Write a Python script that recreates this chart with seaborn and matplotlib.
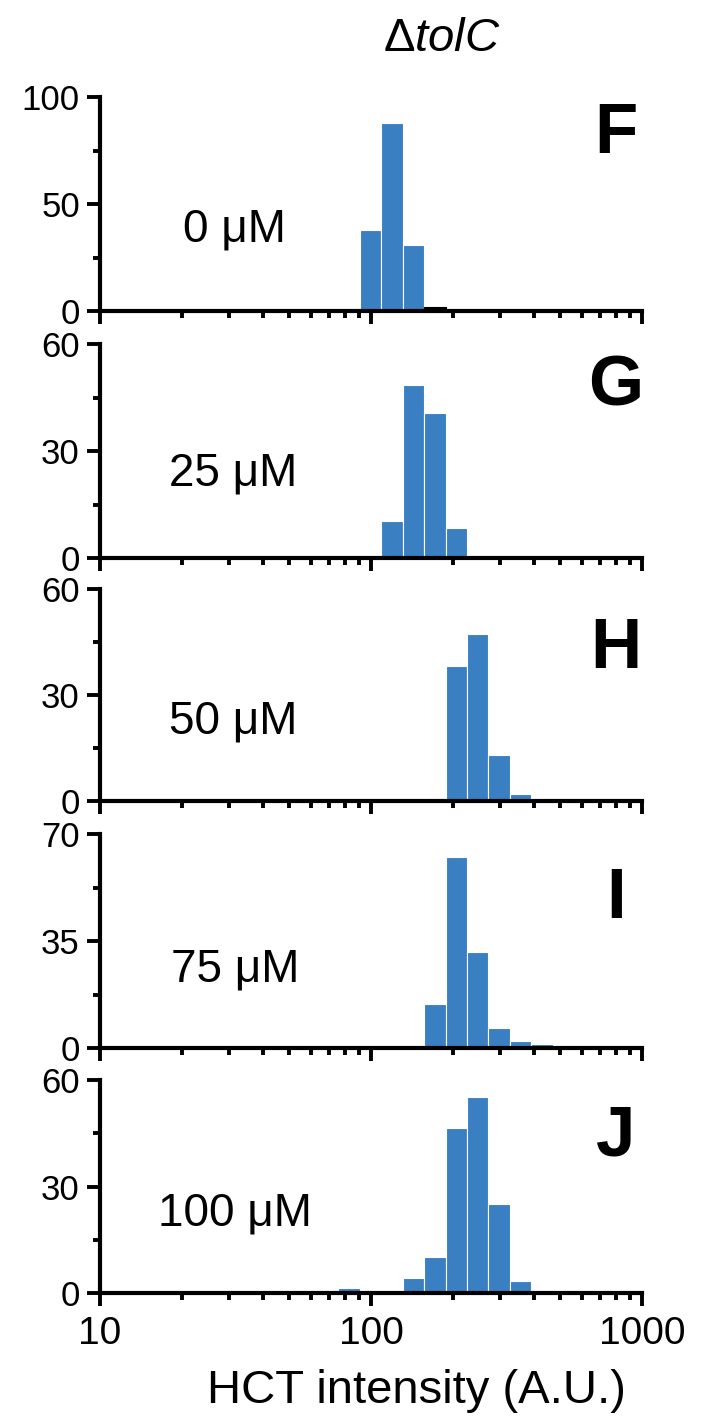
import numpy as np
import matplotlib
matplotlib.use('Agg')
import matplotlib.pyplot as plt
import seaborn as sns

# bin edges of the log-spaced histogram (A.U.)
edges = [43.8, 52.6, 63.1, 75.7, 90.8, 109.0, 130.8, 157.0, 188.4, 226.0,
         271.2, 325.5, 390.6, 468.7, 562.4, 674.9, 809.9, 971.9]

# counts per bin, one list per HCT concentration
counts_0 = [0.6, 0, 0, 0.6, 38, 88, 31, 2, 0, 0, 0, 0, 0, 0, 0, 0.6, 0.6]
counts_25 = [0, 0, 0, 0, 0, 10.4, 48.5, 40.7, 8.5, 0, 0, 0, 0, 0, 0, 0, 0]
counts_50 = [0, 0, 0, 0, 0, 0, 0, 0.9, 38.3, 47.4, 12.9, 1.9, 0, 0, 0, 0, 0]
counts_75 = [0, 0, 0, 0, 0, 0, 0, 14.5, 62.4, 31.5, 6.6, 2.4, 1.3, 0, 0, 0, 0]
counts_100 = [0, 0, 0, 1.3, 0, 0, 4.2, 10.1, 46.4, 55.2, 25.2, 3.3, 0, 0, 0, 0, 0]

conc_labels = ['0 μM', '25 μM', '50 μM', '75 μM', '100 μM']
panel_letters = ['F', 'G', 'H', 'I', 'J']
y_max = [100, 60, 60, 70, 60]
y_ticks = [[0, 50, 100], [0, 30, 60], [0, 30, 60], [0, 35, 70], [0, 30, 60]]
x_ticks = [10, 100, 1000]
all_counts = [counts_0, counts_25, counts_50, counts_75, counts_100]

sns.set_style('ticks')
plt.rcParams['font.family'] = ['Liberation Sans', 'DejaVu Sans']
plt.rcParams['mathtext.fontset'] = 'custom'
plt.rcParams['mathtext.rm'] = 'Liberation Sans'
plt.rcParams['mathtext.it'] = 'Liberation Sans:italic'
plt.rcParams['text.color'] = 'black'
plt.rcParams['axes.edgecolor'] = 'black'
plt.rcParams['xtick.color'] = 'black'
plt.rcParams['ytick.color'] = 'black'

W, H = 716, 1417
fig = plt.figure(figsize=(W / 100, H / 100), dpi=100)

# panel placement in pixels (top, bottom)
panel_px = [(97, 311), (344, 558), (589, 801), (834, 1048), (1080, 1293)]
left_px, right_px = 100, 642
label_x = [183, 169, 169, 171, 158]
label_base = [242, 485, 733, 981, 1225]
letter_base = [153, 405, 668, 918, 1155]

log_edges = np.log10(edges)  # seaborn takes bins in log space when log_scale=True
centers = 10 ** ((log_edges[:-1] + log_edges[1:]) / 2)
blue = '#3a7fc2'

for i, counts in enumerate(all_counts):
    top, bot = panel_px[i]
    ax = fig.add_axes([left_px / W, 1 - bot / H, (right_px - left_px) / W, (bot - top) / H])
    sns.histplot(x=list(centers), weights=counts, bins=list(log_edges), log_scale=True, ax=ax,
                 color=blue, edgecolor='white', linewidth=0.8, alpha=1)
    if i == 0:
        # the tiny bars in panel F are drawn black
        for p in ax.patches:
            if 0 < p.get_height() < 3:
                p.set_facecolor('black')
                p.set_edgecolor('black')
    ax.set_xlim(10, 1000)
    ax.set_ylim(0, y_max[i])
    ax.set_yticks(y_ticks[i])
    mids = [(a + b) / 2 for a, b in zip(y_ticks[i][:-1], y_ticks[i][1:])]
    ax.set_yticks(mids, minor=True)
    ax.set_xticks(x_ticks)
    ax.set_xticks([v * d for d in (10, 100) for v in range(2, 10)], minor=True)
    ax.set_ylabel('')
    ax.set_xlabel('')
    sns.despine(ax=ax)
    for s in ['left', 'bottom']:
        ax.spines[s].set_linewidth(3)
        ax.spines[s].set_zorder(5)
    ax.tick_params(which='major', length=9.5, width=2.8, labelsize=25, pad=5)
    ax.tick_params(which='minor', length=5, width=2.8)
    ax.set_xticklabels(['10', '100', '1000'] if i == 4 else [])
    ax.set_xticklabels([], minor=True)
    ax.tick_params(axis='x', labelsize=28, pad=7)
    fig.text(label_x[i] / W, 1 - label_base[i] / H, conc_labels[i], fontsize=33,
             ha='left', va='baseline')
    fig.text(616 / W, 1 - letter_base[i] / H, panel_letters[i], fontsize=51,
             fontweight='bold', ha='center', va='baseline')

fig.text(383 / W, 1 - 51 / H, r'$\Delta\mathit{tolC}$', fontsize=34, ha='left', va='baseline')
fig.text(416 / W, 1 - 1403 / H, 'HCT intensity (A.U.)', fontsize=34, ha='center', va='baseline')

fig.savefig('out.png', dpi=100)
